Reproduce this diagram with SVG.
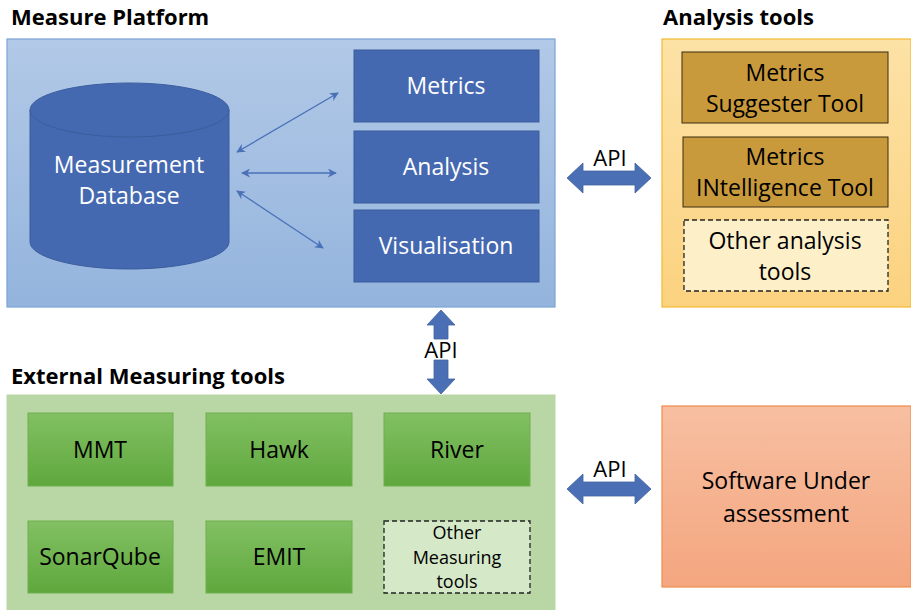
<svg xmlns="http://www.w3.org/2000/svg" width="911" height="610" viewBox="0 0 911 610">
<defs>
<linearGradient id="gBlue" x1="0" y1="0" x2="0" y2="1"><stop offset="0" stop-color="#b2c9e7"/><stop offset="1" stop-color="#94b4dd"/></linearGradient>
<linearGradient id="gOrange" x1="0" y1="0" x2="0" y2="1"><stop offset="0" stop-color="#fde2a6"/><stop offset="1" stop-color="#fbd27f"/></linearGradient>
<linearGradient id="gGreen" x1="0" y1="0" x2="0" y2="1"><stop offset="0" stop-color="#82c063"/><stop offset="1" stop-color="#5fa83d"/></linearGradient>
<linearGradient id="gSalmon" x1="0" y1="0" x2="0" y2="1"><stop offset="0" stop-color="#f7bfa1"/><stop offset="1" stop-color="#f4a67f"/></linearGradient>
<marker id="ah" viewBox="0 0 10 10" refX="9" refY="5" markerWidth="9" markerHeight="9" markerUnits="userSpaceOnUse" orient="auto-start-reverse"><path d="M0,0 L10,5 L0,10 L3,5 Z" fill="#4a70b8"/></marker>
</defs>
<style>
.title{font-family:"Open Sans","Liberation Sans",sans-serif;font-weight:bold;font-size:22px;fill:#000}
.wt{font-family:"Open Sans","Liberation Sans",sans-serif;font-size:23px;fill:#fff;text-anchor:middle}
.bt{font-family:"Open Sans","Liberation Sans",sans-serif;font-size:23px;fill:#000;text-anchor:middle}
.sm{font-family:"Open Sans","Liberation Sans",sans-serif;font-size:18px;fill:#000;text-anchor:middle}
.api{font-family:"Open Sans","Liberation Sans",sans-serif;font-size:22px;fill:#000;text-anchor:middle}
.dbox{fill:#4569b1;stroke:#3b5d9c;stroke-width:1}
.gold{fill:#c99a3b;stroke:#3a2c10;stroke-width:1}
.green{fill:url(#gGreen);stroke:#6fb04f;stroke-width:1}
.dash{stroke:#222;stroke-width:1.3;stroke-dasharray:5,3}
.conn{stroke:#4a70b8;stroke-width:1.3;fill:none}
.bigarrow{fill:#4a6fb5;stroke:#41649f;stroke-width:0.8}
</style>

<g id="measure-platform">
<text class="title" x="11" y="25">Measure Platform</text>
<rect x="7" y="39" width="548" height="268" fill="url(#gBlue)" stroke="#7aa3d6" stroke-width="1.2"/>
</g>

<g id="measurement-database">
<path d="M30,110 L30,242 A99.5,27 0 0 0 229,242 L229,110 A99.5,27 0 0 0 30,110 Z" class="dbox"/>
<path d="M30,110 A99.5,27 0 0 0 229,110" fill="none" stroke="#3b5d9c" stroke-width="1"/>
<text class="wt" x="129" y="173">Measurement</text>
<text class="wt" x="129" y="204">Database</text>
</g>

<g id="metrics">
<rect x="354" y="50" width="185" height="72" class="dbox"/>
<text class="wt" x="446" y="94">Metrics</text>
</g>
<g id="analysis">
<rect x="354" y="131" width="185" height="72" class="dbox"/>
<text class="wt" x="446" y="175">Analysis</text>
</g>
<g id="visualisation">
<rect x="354" y="210" width="185" height="72" class="dbox"/>
<text class="wt" x="446" y="254">Visualisation</text>
</g>

<g id="analysis-tools">
<text class="title" x="663" y="25">Analysis tools</text>
<rect x="662" y="39" width="249" height="268" fill="url(#gOrange)" stroke="#f2b930" stroke-width="1.2"/>
</g>
<g id="metrics-suggester">
<rect x="682" y="52" width="206" height="71" class="gold"/>
<text class="bt" x="785" y="81">Metrics</text>
<text class="bt" x="785" y="112">Suggester Tool</text>
</g>
<g id="metrics-intelligence">
<rect x="683" y="137" width="205" height="70" class="gold"/>
<text class="bt" x="785" y="165">Metrics</text>
<text class="bt" x="785" y="196">INtelligence Tool</text>
</g>
<g id="other-analysis">
<rect x="684" y="220" width="204" height="71" fill="#fdf0c9" class="dash"/>
<text class="bt" x="785" y="249">Other analysis</text>
<text class="bt" x="785" y="280">tools</text>
</g>

<g id="external-measuring-tools">
<text class="title" x="11" y="384">External Measuring tools</text>
<rect x="7" y="395" width="548" height="216" fill="#b8d7a4" stroke="#b8d7a4"/>
</g>
<g id="mmt"><rect x="28" y="413" width="145" height="73" class="green"/><text class="bt" x="100" y="458">MMT</text></g>
<g id="hawk"><rect x="206" y="413" width="146" height="73" class="green"/><text class="bt" x="279" y="458">Hawk</text></g>
<g id="river"><rect x="384" y="413" width="146" height="73" class="green"/><text class="bt" x="457" y="458">River</text></g>
<g id="sonarqube"><rect x="28" y="521" width="145" height="72" class="green"/><text class="bt" x="100" y="565">SonarQube</text></g>
<g id="emit"><rect x="206" y="521" width="146" height="72" class="green"/><text class="bt" x="279" y="565">EMIT</text></g>
<g id="other-measuring">
<rect x="384" y="521" width="146" height="72" fill="#d5e8c8" class="dash"/>
<text class="sm" x="457" y="539">Other</text>
<text class="sm" x="457" y="564">Measuring</text>
<text class="sm" x="457" y="588">tools</text>
</g>

<g id="software-under-assessment">
<rect x="662" y="406" width="249" height="181" fill="url(#gSalmon)" stroke="#f08c4f" stroke-width="1.2"/>
<text class="bt" x="786" y="489">Software Under</text>
<text class="bt" x="786" y="522">assessment</text>
</g>

<g id="connectors">
<line class="conn" x1="237" y1="152" x2="338" y2="93" marker-start="url(#ah)" marker-end="url(#ah)"/>
<line class="conn" x1="242" y1="173" x2="336" y2="173" marker-start="url(#ah)" marker-end="url(#ah)"/>
<line class="conn" x1="237" y1="191" x2="323" y2="248" marker-start="url(#ah)" marker-end="url(#ah)"/>
<path class="bigarrow" d="M567,178 L583,163 L583,171 L635,171 L635,163 L651,178 L635,193 L635,185 L583,185 L583,193 Z"/>
<text class="api" x="610" y="166">API</text>
<path class="bigarrow" d="M567,489 L583,474 L583,482 L635,482 L635,474 L651,489 L635,504 L635,496 L583,496 L583,504 Z"/>
<text class="api" x="610" y="477">API</text>
<path class="bigarrow" d="M441,310 L455,325 L448,325 L448,339 L434,339 L434,325 L427,325 Z"/>
<path class="bigarrow" d="M441,394 L455,379 L448,379 L448,360 L434,360 L434,379 L427,379 Z"/>
<text class="api" x="441" y="358">API</text>
</g>
</svg>
